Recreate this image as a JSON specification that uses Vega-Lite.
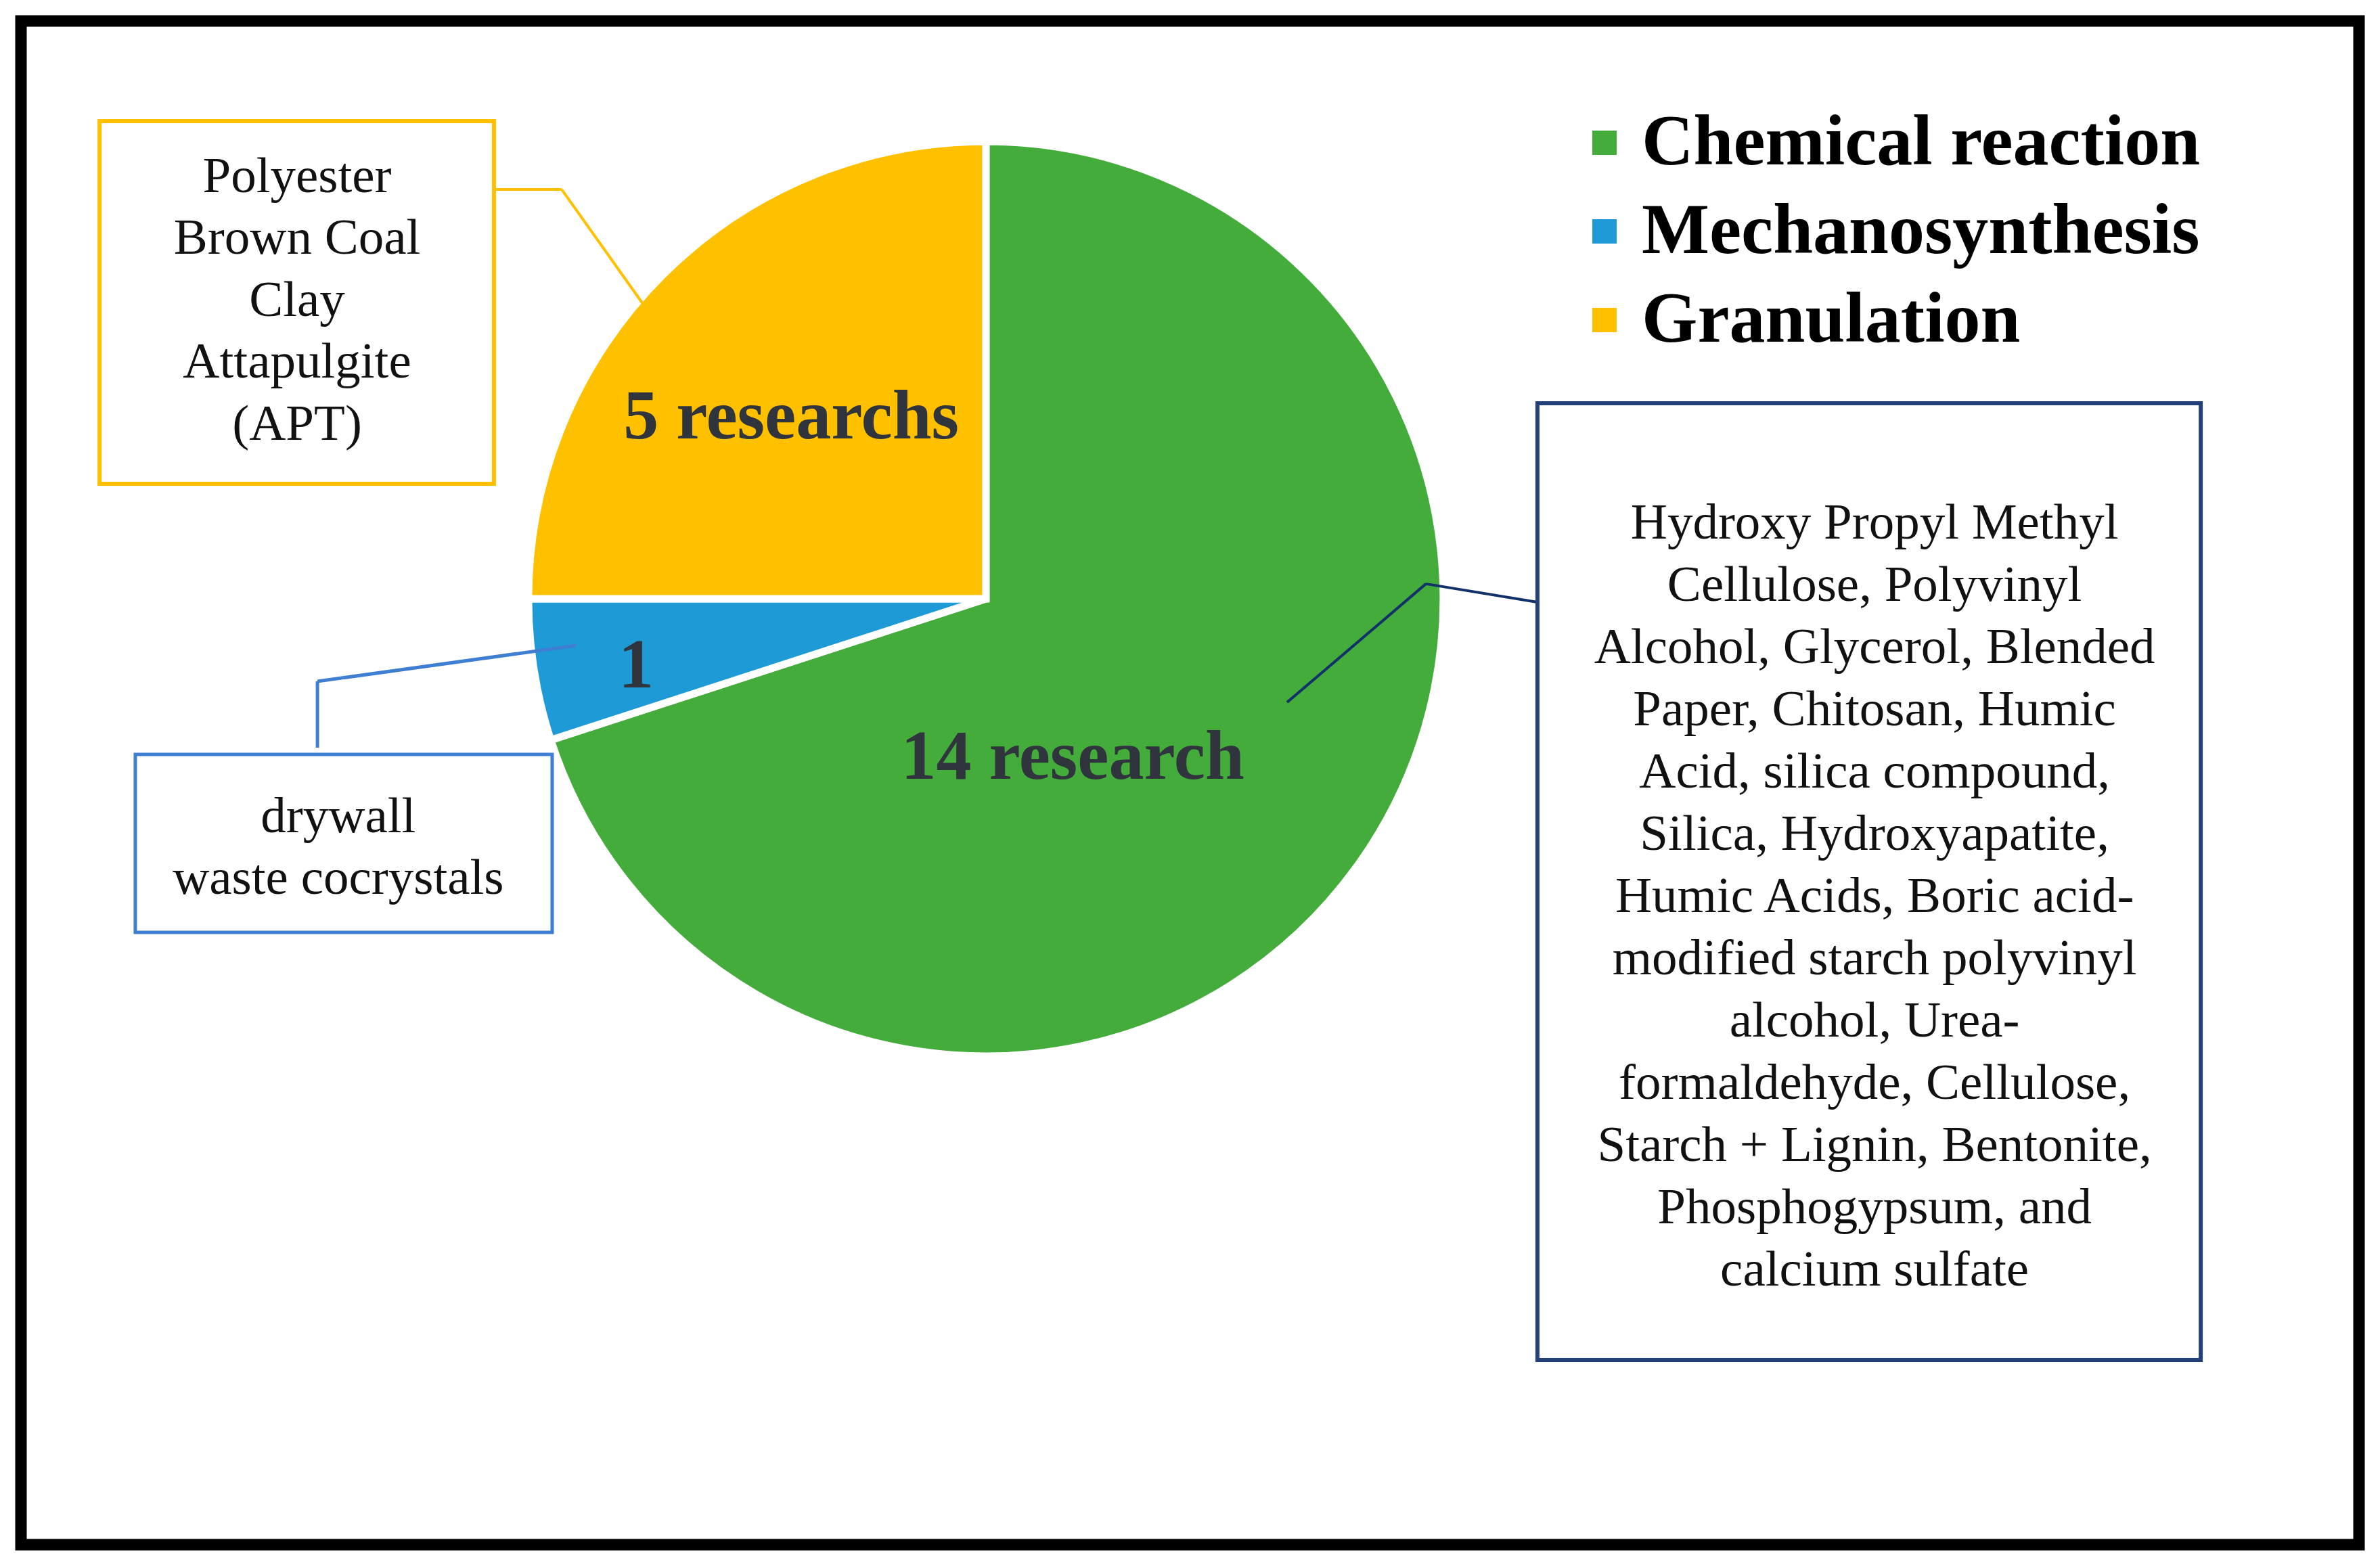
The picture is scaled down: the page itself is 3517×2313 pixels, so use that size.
{
  "$schema": "https://vega.github.io/schema/vega-lite/v6.json",
  "width": 3455,
  "height": 2252,
  "autosize": {"type": "none"},
  "padding": {"left": 31, "top": 31, "right": 31, "bottom": 30},
  "background": "white",
  "config": {
    "view": {"stroke": "black", "strokeWidth": 17, "fill": "white"},
    "axis": {"disable": true}
  },
  "data": {
    "values": [
      {"method": "Chemical reaction", "seq": 1, "count": 14, "label": "14 research",
       "materials": ["Hydroxy Propyl Methyl", "Cellulose, Polyvinyl", "Alcohol, Glycerol, Blended", "Paper, Chitosan, Humic", "Acid, silica compound,", "Silica, Hydroxyapatite,", "Humic Acids, Boric acid-", "modified starch polyvinyl", "alcohol, Urea-", "formaldehyde, Cellulose,", "Starch + Lignin, Bentonite,", "Phosphogypsum, and", "calcium sulfate"]},
      {"method": "Mechanosynthesis", "seq": 2, "count": 1, "label": "1",
       "materials": ["drywall", "waste cocrystals"]},
      {"method": "Granulation", "seq": 3, "count": 5, "label": "5 researchs",
       "materials": ["Polyester", "Brown Coal", "Clay", "Attapulgite", "(APT)"]}
    ]
  },
  "layer": [
    {
      "mark": {"type": "arc", "outerRadius": 676, "stroke": "white", "strokeWidth": 11},
      "encoding": {
        "theta": {"field": "count", "type": "quantitative", "stack": true},
        "order": {"field": "seq", "type": "quantitative"},
        "color": {
          "field": "method", "type": "nominal",
          "scale": {"domain": ["Chemical reaction", "Mechanosynthesis", "Granulation"], "range": ["#43AC3B", "#1E9BD7", "#FFC000"]},
          "legend": {
            "orient": "none", "legendX": 2287, "legendY": 127, "title": null, "padding": 0,
            "symbolType": "square", "symbolSize": 1300, "symbolStrokeWidth": 0,
            "labelFont": "Liberation Serif", "labelFontSize": 106, "labelFontWeight": "bold", "labelColor": "black",
            "labelOffset": 2, "labelLimit": 3000, "rowPadding": 25
          }
        },
        "x": {"datum": 41.27, "type": "quantitative", "scale": {"domain": [0, 100], "nice": false, "zero": false}},
        "y": {"datum": 37.92, "type": "quantitative", "scale": {"domain": [0, 100], "nice": false, "zero": false, "reverse": true}}
      }
    },
    {
      "transform": [{"filter": "datum.method === 'Granulation'"}],
      "mark": {"type": "rule", "stroke": "#FFC000", "strokeWidth": 4},
      "encoding": {
        "x": {"datum": 20.23, "type": "quantitative", "scale": {"domain": [0, 100], "nice": false, "zero": false}},
        "y": {"datum": 11.06, "type": "quantitative", "scale": {"domain": [0, 100], "nice": false, "zero": false, "reverse": true}},
        "x2": {"datum": 23.13},
        "y2": {"datum": 11.06}
      }
    },
    {
      "transform": [{"filter": "datum.method === 'Granulation'"}],
      "mark": {"type": "rule", "stroke": "#FFC000", "strokeWidth": 4},
      "encoding": {
        "x": {"datum": 23.13, "type": "quantitative", "scale": {"domain": [0, 100], "nice": false, "zero": false}},
        "y": {"datum": 11.06, "type": "quantitative", "scale": {"domain": [0, 100], "nice": false, "zero": false, "reverse": true}},
        "x2": {"datum": 26.6},
        "y2": {"datum": 18.56}
      }
    },
    {
      "transform": [{"filter": "datum.method === 'Mechanosynthesis'"}],
      "mark": {"type": "rule", "stroke": "#3E7FD3", "strokeWidth": 5},
      "encoding": {
        "x": {"datum": 12.68, "type": "quantitative", "scale": {"domain": [0, 100], "nice": false, "zero": false}},
        "y": {"datum": 47.69, "type": "quantitative", "scale": {"domain": [0, 100], "nice": false, "zero": false, "reverse": true}},
        "x2": {"datum": 12.68},
        "y2": {"datum": 43.34}
      }
    },
    {
      "transform": [{"filter": "datum.method === 'Mechanosynthesis'"}],
      "mark": {"type": "rule", "stroke": "#3E7FD3", "strokeWidth": 5},
      "encoding": {
        "x": {"datum": 12.68, "type": "quantitative", "scale": {"domain": [0, 100], "nice": false, "zero": false}},
        "y": {"datum": 43.34, "type": "quantitative", "scale": {"domain": [0, 100], "nice": false, "zero": false, "reverse": true}},
        "x2": {"datum": 23.73},
        "y2": {"datum": 40.99}
      }
    },
    {
      "transform": [{"filter": "datum.method === 'Chemical reaction'"}],
      "mark": {"type": "rule", "stroke": "#12306A", "strokeWidth": 4},
      "encoding": {
        "x": {"datum": 54.15, "type": "quantitative", "scale": {"domain": [0, 100], "nice": false, "zero": false}},
        "y": {"datum": 44.72, "type": "quantitative", "scale": {"domain": [0, 100], "nice": false, "zero": false, "reverse": true}},
        "x2": {"datum": 60.09},
        "y2": {"datum": 36.94}
      }
    },
    {
      "transform": [{"filter": "datum.method === 'Chemical reaction'"}],
      "mark": {"type": "rule", "stroke": "#12306A", "strokeWidth": 4},
      "encoding": {
        "x": {"datum": 60.09, "type": "quantitative", "scale": {"domain": [0, 100], "nice": false, "zero": false}},
        "y": {"datum": 36.94, "type": "quantitative", "scale": {"domain": [0, 100], "nice": false, "zero": false, "reverse": true}},
        "x2": {"datum": 64.86},
        "y2": {"datum": 38.14}
      }
    },
    {
      "transform": [{"filter": "datum.method === 'Granulation'"}],
      "mark": {"type": "rect", "fill": "white", "stroke": "#FFC000", "strokeWidth": 6},
      "encoding": {
        "x": {"datum": 3.36, "type": "quantitative", "scale": {"domain": [0, 100], "nice": false, "zero": false}},
        "x2": {"datum": 20.23},
        "y": {"datum": 6.57, "type": "quantitative", "scale": {"domain": [0, 100], "nice": false, "zero": false, "reverse": true}},
        "y2": {"datum": 30.37}
      }
    },
    {
      "transform": [{"filter": "datum.method === 'Mechanosynthesis'"}],
      "mark": {"type": "rect", "fill": "white", "stroke": "#3E7FD3", "strokeWidth": 5},
      "encoding": {
        "x": {"datum": 4.89, "type": "quantitative", "scale": {"domain": [0, 100], "nice": false, "zero": false}},
        "x2": {"datum": 22.72},
        "y": {"datum": 48.13, "type": "quantitative", "scale": {"domain": [0, 100], "nice": false, "zero": false, "reverse": true}},
        "y2": {"datum": 59.81}
      }
    },
    {
      "transform": [{"filter": "datum.method === 'Chemical reaction'"}],
      "mark": {"type": "rect", "fill": "white", "stroke": "#22407A", "strokeWidth": 6},
      "encoding": {
        "x": {"datum": 64.86, "type": "quantitative", "scale": {"domain": [0, 100], "nice": false, "zero": false}},
        "x2": {"datum": 93.23},
        "y": {"datum": 25.09, "type": "quantitative", "scale": {"domain": [0, 100], "nice": false, "zero": false, "reverse": true}},
        "y2": {"datum": 87.88}
      }
    },
    {
      "transform": [{"filter": "datum.method === 'Granulation'"}],
      "mark": {"type": "text", "font": "Liberation Serif", "fontSize": 75, "color": "#111111", "align": "center", "baseline": "alphabetic", "lineHeight": 91.5},
      "encoding": {
        "text": {"field": "materials", "type": "nominal"},
        "x": {"datum": 11.81, "type": "quantitative", "scale": {"domain": [0, 100], "nice": false, "zero": false}},
        "y": {"datum": 11.23, "type": "quantitative", "scale": {"domain": [0, 100], "nice": false, "zero": false, "reverse": true}}
      }
    },
    {
      "transform": [{"filter": "datum.method === 'Mechanosynthesis'"}],
      "mark": {"type": "text", "font": "Liberation Serif", "fontSize": 75, "color": "#111111", "align": "center", "baseline": "alphabetic", "lineHeight": 91},
      "encoding": {
        "text": {"field": "materials", "type": "nominal"},
        "x": {"datum": 13.57, "type": "quantitative", "scale": {"domain": [0, 100], "nice": false, "zero": false}},
        "y": {"datum": 53.24, "type": "quantitative", "scale": {"domain": [0, 100], "nice": false, "zero": false, "reverse": true}}
      }
    },
    {
      "transform": [{"filter": "datum.method === 'Chemical reaction'"}],
      "mark": {"type": "text", "font": "Liberation Serif", "fontSize": 75, "color": "#111111", "align": "center", "baseline": "alphabetic", "lineHeight": 92},
      "encoding": {
        "text": {"field": "materials", "type": "nominal"},
        "x": {"datum": 79.28, "type": "quantitative", "scale": {"domain": [0, 100], "nice": false, "zero": false}},
        "y": {"datum": 33.97, "type": "quantitative", "scale": {"domain": [0, 100], "nice": false, "zero": false, "reverse": true}}
      }
    },
    {
      "transform": [{"filter": "datum.method === 'Granulation'"}],
      "mark": {"type": "text", "font": "Liberation Serif", "fontSize": 104, "fontWeight": "bold", "color": "#30343C", "align": "center", "baseline": "alphabetic"},
      "encoding": {
        "text": {"field": "label", "type": "nominal"},
        "x": {"datum": 32.94, "type": "quantitative", "scale": {"domain": [0, 100], "nice": false, "zero": false}},
        "y": {"datum": 27.4, "type": "quantitative", "scale": {"domain": [0, 100], "nice": false, "zero": false, "reverse": true}}
      }
    },
    {
      "transform": [{"filter": "datum.method === 'Mechanosynthesis'"}],
      "mark": {"type": "text", "font": "Liberation Serif", "fontSize": 104, "fontWeight": "bold", "color": "#30343C", "align": "center", "baseline": "alphabetic"},
      "encoding": {
        "text": {"field": "label", "type": "nominal"},
        "x": {"datum": 26.31, "type": "quantitative", "scale": {"domain": [0, 100], "nice": false, "zero": false}},
        "y": {"datum": 43.74, "type": "quantitative", "scale": {"domain": [0, 100], "nice": false, "zero": false, "reverse": true}}
      }
    },
    {
      "transform": [{"filter": "datum.method === 'Chemical reaction'"}],
      "mark": {"type": "text", "font": "Liberation Serif", "fontSize": 104, "fontWeight": "bold", "color": "#30343C", "align": "center", "baseline": "alphabetic"},
      "encoding": {
        "text": {"field": "label", "type": "nominal"},
        "x": {"datum": 44.98, "type": "quantitative", "scale": {"domain": [0, 100], "nice": false, "zero": false}},
        "y": {"datum": 49.73, "type": "quantitative", "scale": {"domain": [0, 100], "nice": false, "zero": false, "reverse": true}}
      }
    }
  ]
}
